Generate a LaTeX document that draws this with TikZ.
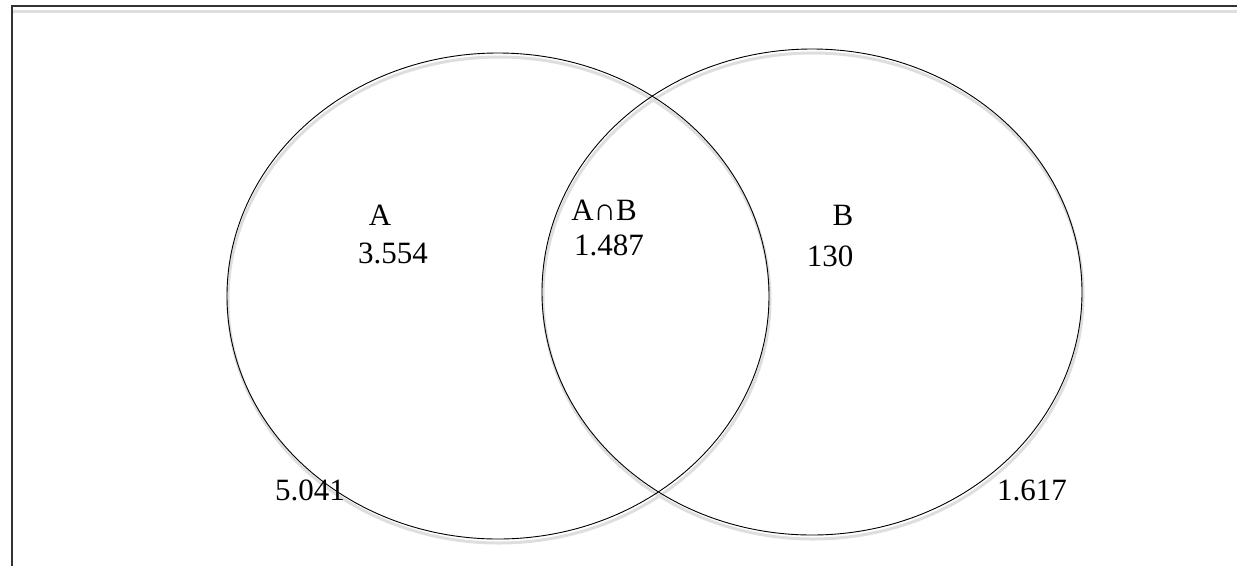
\documentclass[tikz,border=0pt]{standalone}
\usepackage{fontspec}
\setmainfont{Liberation Serif}
\usetikzlibrary{shapes.geometric}
\tikzset{
	venn/.style={draw, ellipse, line width=0.9pt, inner sep=0pt},
	shade line/.style={draw=black!13, line width=3pt},
	count/.style={font=\fontsize{31}{36}\selectfont, inner sep=0pt}
}

\begin{document}
\begin{tikzpicture}[x=1pt, y=-1pt]
	\useasboundingbox (0,0) rectangle (1237,566);

	% frame
	\coordinate (FB) at (12,566);
	\coordinate (FC) at (12,6);
	\coordinate (FR) at (1237,6);
	\draw[shade line] ([yshift=-5pt]FC) -- ([yshift=-5pt]FR);
	\draw[line width=1.6pt, black!80] (FB) -- (FC) -- (FR);

	% shadows of the two sets
	\draw[shade line] (499,300) ellipse [x radius=271, y radius=243];
	\draw[shade line] (813,296) ellipse [x radius=270, y radius=243];

	\node[venn, minimum width=542pt, minimum height=486pt] (setA) at (498,296) {};
	\node[venn, minimum width=540pt, minimum height=486pt] (setB) at (812,292) {};

	\node[count] (nameA)  at (380,215)  {A};
	\node[count] (onlyA)  at (393,253)  {3.554};
	\node[count] (nameAB) at (604,210)  {A∩B};
	\node[count] (bothAB) at (609,245)  {1.487};
	\node[count] (nameB)  at (843,215)  {B};
	\node[count] (onlyB)  at (830,256)  {130};
	\node[count] (totalA) at (310,490)  {5.041};
	\node[count] (totalB) at (1032,490) {1.617};
\end{tikzpicture}
\end{document}
